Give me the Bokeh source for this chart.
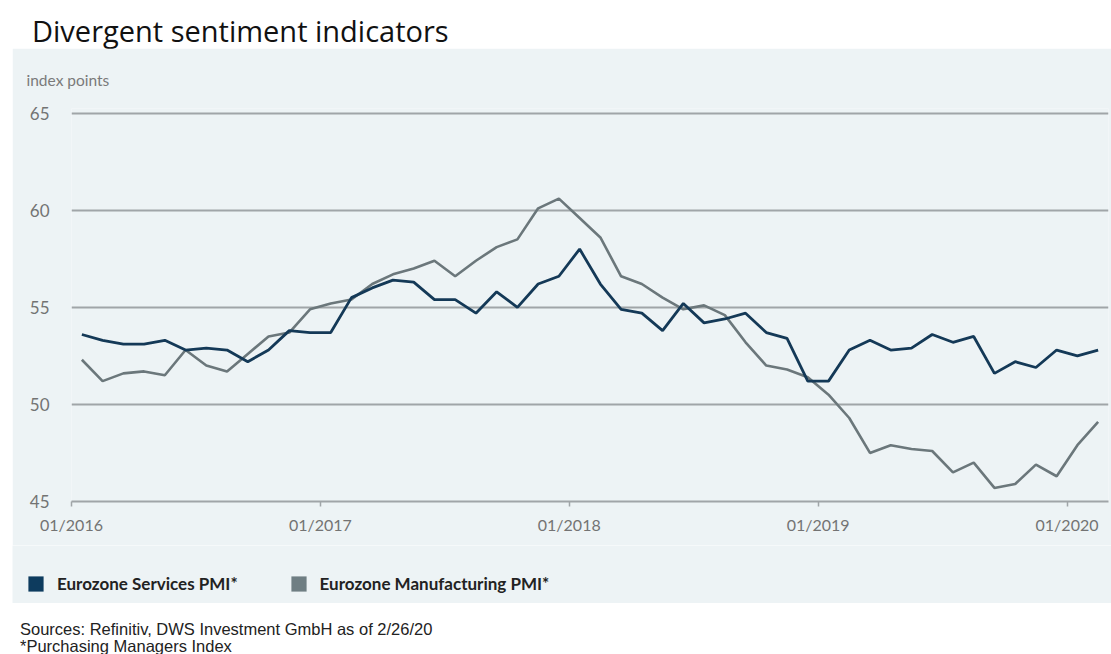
from bokeh.plotting import figure
from bokeh.models import Range1d, FixedTicker, Legend, LegendItem, Div, Spacer
from bokeh.layouts import column, row
from bokeh.embed import file_html
from bokeh.resources import INLINE

NAN = float("nan")

# ---- data (monthly, 01/2016 .. 02/2020) ----
months = [f"{m:02d}/{y}" for y in range(2016, 2021) for m in range(1, 13)][:50]
services = [53.6, 53.3, 53.1, 53.1, 53.3, 52.8, 52.9, 52.8, 52.2, 52.8, 53.8, 53.7,
            53.7, 55.5, 56.0, 56.4, 56.3, 55.4, 55.4, 54.7, 55.8, 55.0, 56.2, 56.6,
            58.0, 56.2, 54.9, 54.7, 53.8, 55.2, 54.2, 54.4, 54.7, 53.7, 53.4, 51.2,
            51.2, 52.8, 53.3, 52.8, 52.9, 53.6, 53.2, 53.5, 51.6, 52.2, 51.9, 52.8,
            52.5, 52.8]
manufacturing = [52.3, 51.2, 51.6, 51.7, 51.5, 52.8, 52.0, 51.7, 52.6, 53.5, 53.7, 54.9,
                 55.2, 55.4, 56.2, 56.7, 57.0, 57.4, 56.6, 57.4, 58.1, 58.5, 60.1, 60.6,
                 59.6, 58.6, 56.6, 56.2, 55.5, 54.9, 55.1, 54.6, 53.2, 52.0, 51.8, 51.4,
                 50.5, 49.3, 47.5, 47.9, 47.7, 47.6, 46.5, 47.0, 45.7, 45.9, 46.9, 46.3,
                 47.9, 49.1]
x_ticks = [0, 12, 24, 36, 48]
x_tick_labels = ["01/2016", "01/2017", "01/2018", "01/2019", "01/2020"]
y_ticks = [45, 50, 55, 60, 65]
series_names = ["Eurozone Services PMI*", "Eurozone Manufacturing PMI*"]

# mid-month positions
xs = [i + 0.5 for i in range(len(months))]

PANEL = "#edf3f5"
NAVY = "#143957"
GREY = "#6b777b"
GRID = "#a0a5a8"
TICK = "#737373"
FONT = "Lato"

p = figure(width=1099, height=497, output_backend="svg", toolbar_location=None,
           x_range=Range1d(0, 50), y_range=Range1d(45, 65.24),
           min_border_left=59, min_border_right=3, min_border_top=60,
           min_border_bottom=44,
           background_fill_color=PANEL, border_fill_color=PANEL,
           outline_line_color=None, title="index points")

p.title.align = "left"
p.title.offset = -45
p.title.standoff = 40
p.title.text_font = FONT
p.title.text_font_size = "15.5px"
p.title.text_font_style = "normal"
p.title.text_color = "#7a7a7a"

# x axis
p.xaxis.ticker = FixedTicker(ticks=x_ticks)
p.xaxis.major_label_overrides = dict(zip(x_ticks, x_tick_labels))
p.xaxis.axis_line_color = GRID
p.xaxis.axis_line_width = 2
p.xaxis.major_tick_line_color = GRID
p.xaxis.major_tick_line_width = 1.5
p.xaxis.major_tick_in = 0
p.xaxis.major_tick_out = 5
p.xaxis.minor_tick_line_color = None
p.xaxis.major_label_text_font = FONT
p.xaxis.major_label_text_font_size = "16px"
p.xaxis.major_label_text_color = TICK
p.xaxis.major_label_standoff = 8

# y axis
p.yaxis.ticker = FixedTicker(ticks=y_ticks)
p.yaxis.axis_line_color = None
p.yaxis.major_tick_line_color = None
p.yaxis.minor_tick_line_color = None
p.yaxis.major_tick_in = 0
p.yaxis.major_tick_out = 0
p.yaxis.major_label_text_font = FONT
p.yaxis.major_label_text_font_size = "17px"
p.yaxis.major_label_text_color = TICK
p.yaxis.major_label_standoff = 22

p.xgrid.visible = False
p.ygrid.ticker = FixedTicker(ticks=y_ticks[1:])
p.ygrid.grid_line_color = GRID
p.ygrid.grid_line_width = 2

p.line(xs, manufacturing, line_color=GREY, line_width=2.6)
p.line(xs, services, line_color=NAVY, line_width=2.8)

# ---- legend strip (separate small figure, same panel colour, no axes) ----
lg = figure(width=1099, height=58, output_backend="svg", toolbar_location=None,
            x_range=Range1d(0, 1), y_range=Range1d(0, 1),
            x_axis_location=None, y_axis_location=None,
            min_border_left=0, min_border_right=0, min_border_top=0, min_border_bottom=0,
            background_fill_color=PANEL, border_fill_color=PANEL,
            outline_line_color=None)
lg.grid.visible = False
r1 = lg.quad(left=[NAN], right=[NAN], top=[NAN], bottom=[NAN],
             fill_color="#0d3b5e", line_color=None)
r2 = lg.quad(left=[NAN], right=[NAN], top=[NAN], bottom=[NAN],
             fill_color="#6f7e83", line_color=None)
legend = Legend(items=[LegendItem(label=series_names[0], renderers=[r1]),
                       LegendItem(label=series_names[1], renderers=[r2])],
                location=(14, 9), orientation="horizontal",
                glyph_width=19, glyph_height=19, label_height=19,
                label_standoff=12, spacing=51,
                padding=0, margin=0, background_fill_alpha=0, border_line_color=None,
                label_text_font=FONT, label_text_font_style="bold",
                label_text_font_size="17px", label_text_color="#222222")
lg.add_layout(legend)

title_div = Div(text=("<div style=\"padding:17px 0 0 32px;font-family:'Open Sans';"
                      "font-size:29px;line-height:28px;color:#111;white-space:nowrap\">"
                      "Divergent sentiment indicators</div>"),
                width=1111, height=48, margin=0)
footer_div = Div(text=("<div style=\"padding:18px 0 0 20px;font-family:'Liberation Sans';"
                       "font-size:16.5px;line-height:16.5px;color:#222;white-space:nowrap\">"
                       "Sources: Refinitiv, DWS Investment GmbH as of 2/26/20<br>"
                       "*Purchasing Managers Index</div>"),
                 width=1111, height=51, margin=0)

layout = column(title_div,
                row(Spacer(width=12, height=555, margin=0),
                    column(p, row(lg, margin=0), margin=0, spacing=0),
                    margin=0, spacing=0),
                footer_div, margin=0, spacing=0)

open("out.html", "w").write(file_html(layout, INLINE))
